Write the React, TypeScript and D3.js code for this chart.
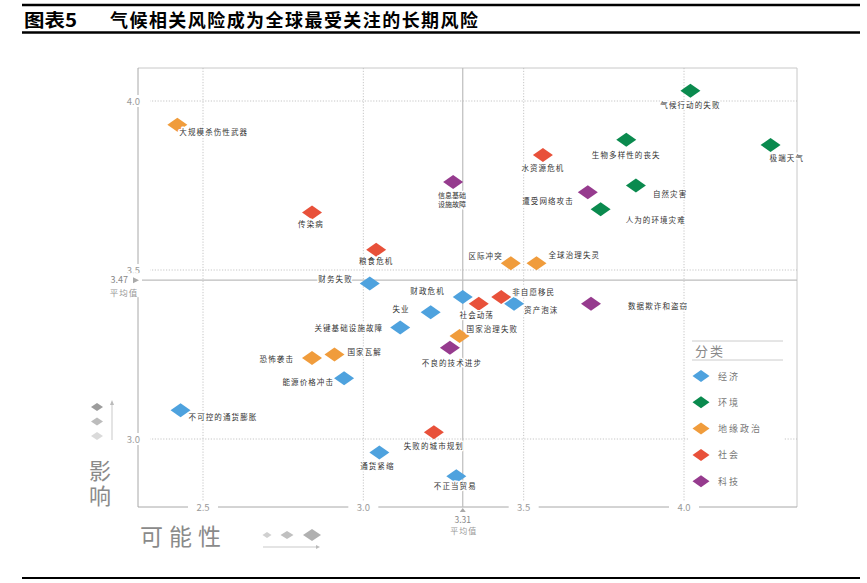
import * as d3 from "d3";

const categories = ["经济", "环境", "地缘政治", "社会", "科技"];
const categoryColors = ["#4ea2de", "#0a8a4e", "#f09c3c", "#e8513a", "#963b8e"];

const riskNames = [
  "气候行动的失败", "极端天气", "生物多样性的丧失", "水资源危机", "自然灾害",
  "遭受网络攻击", "人为的环境灾难", "全球治理失灵", "区际冲突", "大规模杀伤性武器",
  "传染病", "信息基础\n设施故障", "粮食危机", "财务失败", "财政危机",
  "社会动荡", "非自愿移民", "资产泡沫", "数据欺诈和盗窃", "失业",
  "关键基础设施故障", "国家治理失败", "不良的技术进步", "国家瓦解", "恐怖袭击",
  "能源价格冲击", "不可控的通货膨胀", "失败的城市规划", "通货紧缩", "不正当贸易",
];
// 0 经济, 1 环境, 2 地缘政治, 3 社会, 4 科技
const riskCategory = [
  1, 1, 1, 3, 1,
  4, 1, 2, 2, 2,
  3, 4, 3, 0, 0,
  3, 3, 0, 4, 0,
  0, 2, 4, 2, 2,
  0, 0, 3, 0, 0,
];
const likelihood = [
  4.02, 4.27, 3.82, 3.56, 3.85,
  3.70, 3.74, 3.54, 3.46, 2.42,
  2.84, 3.28, 3.04, 3.02, 3.31,
  3.36, 3.43, 3.47, 3.71, 3.21,
  3.115, 3.30, 3.27, 2.91, 2.84,
  2.94, 2.43, 3.22, 3.05, 3.29,
];
const impact = [
  4.03, 3.87, 3.885, 3.84, 3.75,
  3.73, 3.68, 3.52, 3.52, 3.93,
  3.67, 3.76, 3.56, 3.46, 3.42,
  3.40, 3.42, 3.40, 3.40, 3.375,
  3.33, 3.305, 3.27, 3.25, 3.24,
  3.18, 3.085, 3.02, 2.96, 2.89,
];

const xTicks = [2.5, 3.0, 3.5, 4.0];
const yTicks = [3.0, 3.5, 4.0];
const meanLikelihood = 3.31;
const meanImpact = 3.47;

// label placement: [anchor, dx, dy]
const labelPlacement: [string, number, number][] = [
  ["middle", 0, 17], ["start", -1, 16], ["middle", 0, 18], ["middle", 0, 16], ["start", 17, 11],
  ["end", -14, 12], ["start", 25, 14], ["start", 12, -5], ["end", -8, -4], ["start", 2, 10],
  ["middle", -1, 14], ["middle", -1, 16], ["middle", 0, 14], ["end", -17, -2], ["end", -18, -3],
  ["middle", -2, 14], ["start", 11, -2], ["start", 10, 9], ["start", 37, 5], ["end", -21, 0],
  ["end", -17, 4], ["start", 7, -4], ["middle", 2, 18], ["start", 13, 0], ["end", -18, 4],
  ["end", -10, 7], ["start", 8, 10], ["middle", 0, 17], ["middle", -2, 16], ["middle", -1, 13],
];

const FONT = "'Noto Sans CJK SC', 'Noto Sans', sans-serif";

function diamond(cx: number, cy: number, w: number, h: number) {
  return `M${cx - w / 2},${cy}L${cx},${cy - h / 2}L${cx + w / 2},${cy}L${cx},${cy + h / 2}Z`;
}

export default function App() {
  const width = 867;
  const height = 583;
  const left = 138, right = 797, top = 68, bottom = 507;

  const x = d3.scaleLinear().domain([2.5, 4.0]).range([203, 684]);
  const y = d3.scaleLinear().domain([3.0, 4.0]).range([439, 101]);

  const gridColor = "#b8b8b8";
  const frameColor = "#c8c8c8";
  const tickColor = "#9a9a9a";

  const legendX = 692, legendY = 341;

  return (
    <svg width={width} height={height} style={{ position: "absolute", left: 0, top: 0 }} fontFamily={FONT}>
      <rect width={width} height={height} fill="#fff" />
      {/* title */}
      <line x1={22} x2={860} y1={5} y2={5} stroke="#000" strokeWidth={2.6} />
      <text x={24} y={27} fontSize={18} fontWeight={700} textLength={53} lengthAdjust="spacingAndGlyphs">图表5</text>
      <text x={110} y={27} fontSize={18} fontWeight={700} textLength={368} lengthAdjust="spacing">
        气候相关风险成为全球最受关注的长期风险
      </text>
      <line x1={22} x2={860} y1={32.5} y2={32.5} stroke="#000" strokeWidth={2.6} />
      <line x1={22} x2={860} y1={578} y2={578} stroke="#000" strokeWidth={2} />

      {/* frame */}
      <line x1={left} x2={right} y1={top} y2={top} stroke={frameColor} />
      <line x1={right} x2={right} y1={top} y2={bottom} stroke={frameColor} />
      <line x1={left} x2={left} y1={top} y2={bottom} stroke="#a8a8a8" />
      <line x1={left} x2={right} y1={bottom} y2={bottom} stroke="#a8a8a8" />

      {/* grid */}
      {xTicks.map((t) => (
        <line key={"gx" + t} x1={x(t)} x2={x(t)} y1={top} y2={bottom} stroke={gridColor} strokeWidth={0.8} strokeDasharray="1.2,1.6" />
      ))}
      {yTicks.map((t) => (
        <line key={"gy" + t} x1={left} x2={right} y1={y(t)} y2={y(t)} stroke={gridColor} strokeWidth={0.8} strokeDasharray="1.2,1.6" />
      ))}
      {/* mean lines */}
      <line x1={x(meanLikelihood)} x2={x(meanLikelihood)} y1={top} y2={bottom} stroke="#bdbdbd" strokeWidth={1.2} />
      <line x1={left} x2={right} y1={y(meanImpact)} y2={y(meanImpact)} stroke="#bdbdbd" strokeWidth={1.2} />

      {/* y tick labels */}
      {yTicks.map((t) => (
        <g key={"ty" + t}>
          <rect x={left - 16} y={y(t) - 6} width={28} height={12} fill="#fff" />
          <text x={left + 2} y={y(t) + 3.5} fontSize={9.5} fill={tickColor} textAnchor="end">{t.toFixed(1)}</text>
        </g>
      ))}
      {/* x tick labels */}
      {xTicks.map((t) => (
        <g key={"tx" + t}>
          <rect x={x(t) - 15} y={bottom - 5} width={30} height={10} fill="#fff" />
          <text x={x(t)} y={bottom + 3.5} fontSize={9.5} fill={tickColor} textAnchor="middle">{t.toFixed(1)}</text>
        </g>
      ))}

      {/* mean labels */}
      <rect x={100} y={y(meanImpact) - 7} width={left - 100 + 4} height={24} fill="#fff" />
      <text x={128} y={y(meanImpact) + 3} fontSize={9} fill="#888" textAnchor="end">{meanImpact.toFixed(2)}</text>
      <path d={`M${133},${y(meanImpact) - 3}L${139},${y(meanImpact)}L${133},${y(meanImpact) + 3}Z`} fill="#aaa" />
      <text x={124} y={y(meanImpact) + 16} fontSize={8.5} fill="#999" textAnchor="middle" letterSpacing={1}>平均值</text>

      <path d={`M${x(meanLikelihood) - 3},${bottom + 5}L${x(meanLikelihood)},${bottom + 1}L${x(meanLikelihood) + 3},${bottom + 5}Z`} fill="#aaa" />
      <text x={x(meanLikelihood)} y={bottom + 16} fontSize={8.5} fill="#888" textAnchor="middle">{meanLikelihood.toFixed(2)}</text>
      <text x={x(meanLikelihood) + 1} y={bottom + 27} fontSize={8} fill="#999" textAnchor="middle" letterSpacing={1}>平均值</text>

      {/* axis titles */}
      <text x={100} y={479} fontSize={22} fill="#8a8a8a" textAnchor="middle">
        <tspan x={100}>影</tspan>
        <tspan x={100} dy={25}>响</tspan>
      </text>
      <text x={140} y={545} fontSize={23} fill="#8a8a8a" letterSpacing={6}>可能性</text>

      {/* size hints */}
      {["#9c9c9c", "#bcbcbc", "#dadada"].map((c, i) => (
        <path key={"vh" + i} d={diamond(97, 407 + i * 14.5, 12, 8)} fill={c} />
      ))}
      <line x1={112} x2={112} y1={440} y2={403} stroke="#bbb" strokeWidth={0.8} />
      <path d="M110,405L112,400L114,405Z" fill="#bbb" />
      {[[267, 9, 6, "#d0d0d0"], [287, 13, 8, "#c0c0c0"], [312, 18, 12, "#b0b0b0"]].map((d, i) => (
        <path key={"hh" + i} d={diamond(d[0] as number, 535, d[1] as number, d[2] as number)} fill={d[3] as string} />
      ))}
      <line x1={263} x2={318} y1={547} y2={547} stroke="#bbb" strokeWidth={0.8} />
      <path d="M316,545L320,547L316,549Z" fill="#bbb" />

      {/* points */}
      {riskNames.map((name, i) => (
        <path key={"p" + i} d={diamond(x(likelihood[i]), y(impact[i]), 20, 14)} fill={categoryColors[riskCategory[i]]} />
      ))}
      {/* labels */}
      {riskNames.map((name, i) => {
        const [anchor, dx, dy] = labelPlacement[i];
        const lines = name.split("\n");
        return (
          <text
            key={"l" + i}
            x={x(likelihood[i]) + dx}
            y={y(impact[i]) + dy}
            fontSize={lines.length > 1 ? 7 : 7.5}
            fill="#333"
            textAnchor={anchor}
            letterSpacing={lines.length > 1 ? 0 : 1.1}
            stroke="#fff"
            strokeWidth={3}
            paintOrder="stroke"
            strokeLinejoin="round"
          >
            {lines.map((ln, j) => (
              <tspan key={j} x={x(likelihood[i]) + dx} dy={j === 0 ? 0 : 8.5}>{ln}</tspan>
            ))}
          </text>
        );
      })}

      {/* legend */}
      <rect x={legendX - 4} y={legendY - 6} width={96} height={156} fill="#fff" />
      <line x1={legendX} x2={legendX + 91} y1={legendY} y2={legendY} stroke="#ccc" />
      <text x={legendX + 3} y={legendY + 15} fontSize={13} fill="#888" letterSpacing={2}>分类</text>
      <line x1={legendX} x2={legendX + 91} y1={legendY + 19} y2={legendY + 19} stroke="#ccc" />
      {categories.map((c, i) => (
        <g key={"lg" + i}>
          <path d={diamond(legendX + 9, legendY + 35 + i * 26.3, 17, 12)} fill={categoryColors[i]} />
          <text x={legendX + 26} y={legendY + 38.5 + i * 26.3} fontSize={9} fill="#777" letterSpacing={2}>{c}</text>
        </g>
      ))}
    </svg>
  );
}
